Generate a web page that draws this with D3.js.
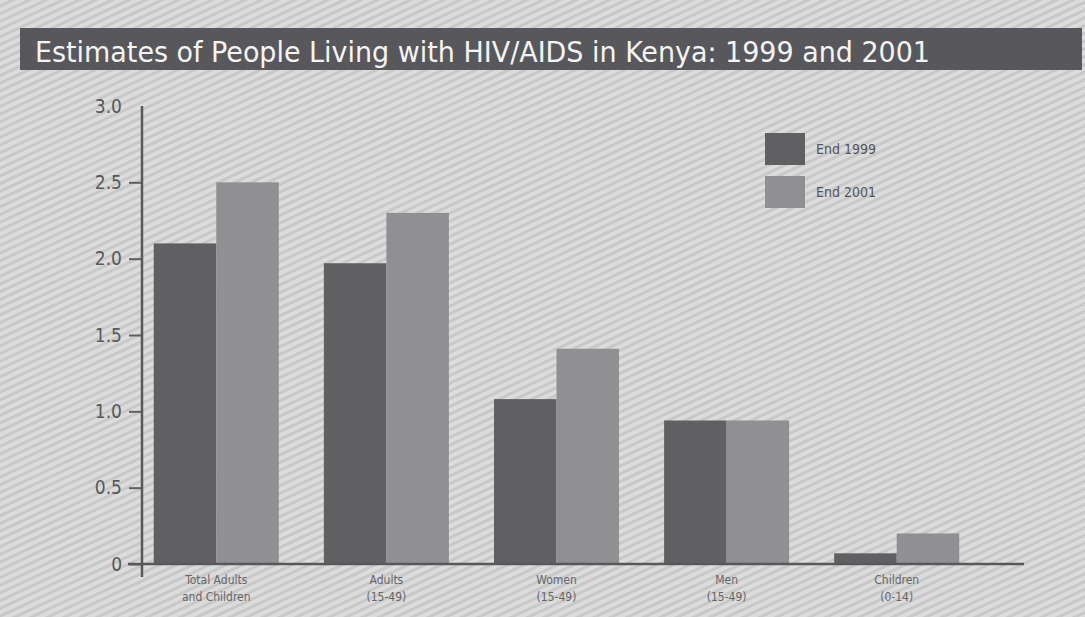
<!DOCTYPE html>
<html>
<head>
<meta charset="utf-8">
<script src="https://cdn.jsdelivr.net/npm/d3@7"></script>
<style>
  html, body { margin: 0; padding: 0; background: #d4d4d4; }
  svg { display: block; }
</style>
</head>
<body>
<svg id="chart" width="1085" height="617"></svg>
<script>
var categories = [
    ["Total Adults", "and Children"],
    ["Adults", "(15-49)"],
    ["Women", "(15-49)"],
    ["Men", "(15-49)"],
    ["Children", "(0-14)"]
];
var seriesNames = ["End 1999", "End 2001"];
var values1999 = [2.1, 1.97, 1.08, 0.94, 0.07];
var values2001 = [2.5, 2.3, 1.41, 0.94, 0.2];
var yTicks = [0, 0.5, 1.0, 1.5, 2.0, 2.5, 3.0];
var titleText = "Estimates of People Living with HIV/AIDS in Kenya: 1999 and 2001";

var colors = ["#606063", "#909093"];
var fontFamily = "'Liberation Sans Narrow', 'DejaVu Sans Condensed', sans-serif";

function drawChart(){
    var svg = d3.select("#chart");
    var width = +svg.attr("width");
    var height = +svg.attr("height");

    // striped paper background
    var defs = svg.append("defs");
    var pat = defs.append("pattern")
        .attr("id", "stripes")
        .attr("patternUnits", "userSpaceOnUse")
        .attr("width", 12)
        .attr("height", 7)
        .attr("patternTransform", "rotate(-25)");
    pat.append("rect")
        .attr("width", 12).attr("height", 7)
        .attr("fill", "#dcdcdc");
    pat.append("rect")
        .attr("y", 4).attr("width", 12).attr("height", 3)
        .attr("fill", "#c8c8c8");

    svg.append("rect")
        .attr("width", width)
        .attr("height", height)
        .attr("fill", "url(#stripes)");

    // title bar
    svg.append("rect")
        .attr("x", 20).attr("y", 28)
        .attr("width", 1062).attr("height", 42)
        .attr("fill", "#58585c");
    svg.append("text")
        .attr("x", 35).attr("y", 62)
        .attr("fill", "#f4f4f4")
        .style("font-family", fontFamily)
        .style("font-size", "28px")
        .attr("textLength", 895)
        .attr("lengthAdjust", "spacingAndGlyphs")
        .text(titleText);

    var data = categories.map(function(c, i){
        return {label: c, vals: [values1999[i], values2001[i]]};
    });

    var y = d3.scaleLinear()
        .domain([0, 3])
        .range([564, 106]);

    var x0 = d3.scaleBand()
        .domain(d3.range(categories.length))
        .range([141, 972])
        .paddingInner(0.265)
        .paddingOuter(0.075);

    var x1 = d3.scaleBand()
        .domain([0, 1])
        .range([0, x0.bandwidth()]);

    // bars
    var groups = svg.append("g").classed("bars", true)
        .selectAll("g")
        .data(data)
        .enter().append("g")
        .attr("transform", (d, i) => "translate(" + x0(i) + ",0)");

    groups.selectAll("rect")
        .data(d => d.vals)
        .enter().append("rect")
        .attr("x", (d, j) => x1(j))
        .attr("y", d => y(d))
        .attr("width", x1.bandwidth())
        .attr("height", d => y(0) - y(d))
        .attr("fill", (d, j) => colors[j]);

    // y axis
    var yAxis = d3.axisLeft(y)
        .tickValues(yTicks)
        .tickSize(13)
        .tickPadding(7)
        .tickFormat(d => d === 0 ? "0" : d3.format(".1f")(d));

    var yg = svg.append("g")
        .classed("y-axis", true)
        .attr("transform", "translate(142,0)")
        .call(yAxis);
    yg.select(".domain").remove();
    yg.selectAll(".tick line")
        .attr("stroke", "#606064")
        .attr("stroke-width", 2);
    yg.selectAll(".tick").filter(d => d === 3).select("line").remove();
    yg.selectAll(".tick text")
        .attr("fill", "#58585b")
        .style("font-family", fontFamily)
        .style("font-size", "19px");

    svg.append("line")
        .attr("x1", 142).attr("x2", 142)
        .attr("y1", y(3)).attr("y2", y(0) + 13)
        .attr("stroke", "#58585c")
        .attr("stroke-width", 2.5);

    // baseline
    svg.append("line")
        .attr("x1", 128).attr("x2", 1024)
        .attr("y1", y(0)).attr("y2", y(0))
        .attr("stroke", "#58585c")
        .attr("stroke-width", 2.5);

    // category labels
    var labels = svg.append("g").classed("x-labels", true)
        .selectAll("text")
        .data(data)
        .enter().append("text")
        .attr("x", (d, i) => x0(i) + x0.bandwidth() / 2)
        .attr("y", 584)
        .attr("text-anchor", "middle")
        .attr("fill", "#66666a")
        .style("font-family", fontFamily)
        .style("font-size", "12px");
    labels.selectAll("tspan")
        .data(d => d.label)
        .enter().append("tspan")
        .attr("x", function(){ return d3.select(this.parentNode).attr("x"); })
        .attr("dy", (d, k) => k === 0 ? 0 : "1.45em")
        .text(d => d);

    // legend
    var legend = svg.append("g").classed("legend", true)
        .selectAll("g")
        .data(seriesNames)
        .enter().append("g")
        .attr("transform", (d, i) => "translate(765," + (133 + i * 43) + ")");
    legend.append("rect")
        .attr("width", 40).attr("height", 32)
        .attr("fill", (d, i) => colors[i]);
    legend.append("text")
        .attr("x", 51).attr("y", 16)
        .attr("dy", "0.35em")
        .attr("fill", "#555558")
        .style("font-family", fontFamily)
        .style("font-size", "14px")
        .text(d => d);
}

drawChart();
</script>
</body>
</html>
